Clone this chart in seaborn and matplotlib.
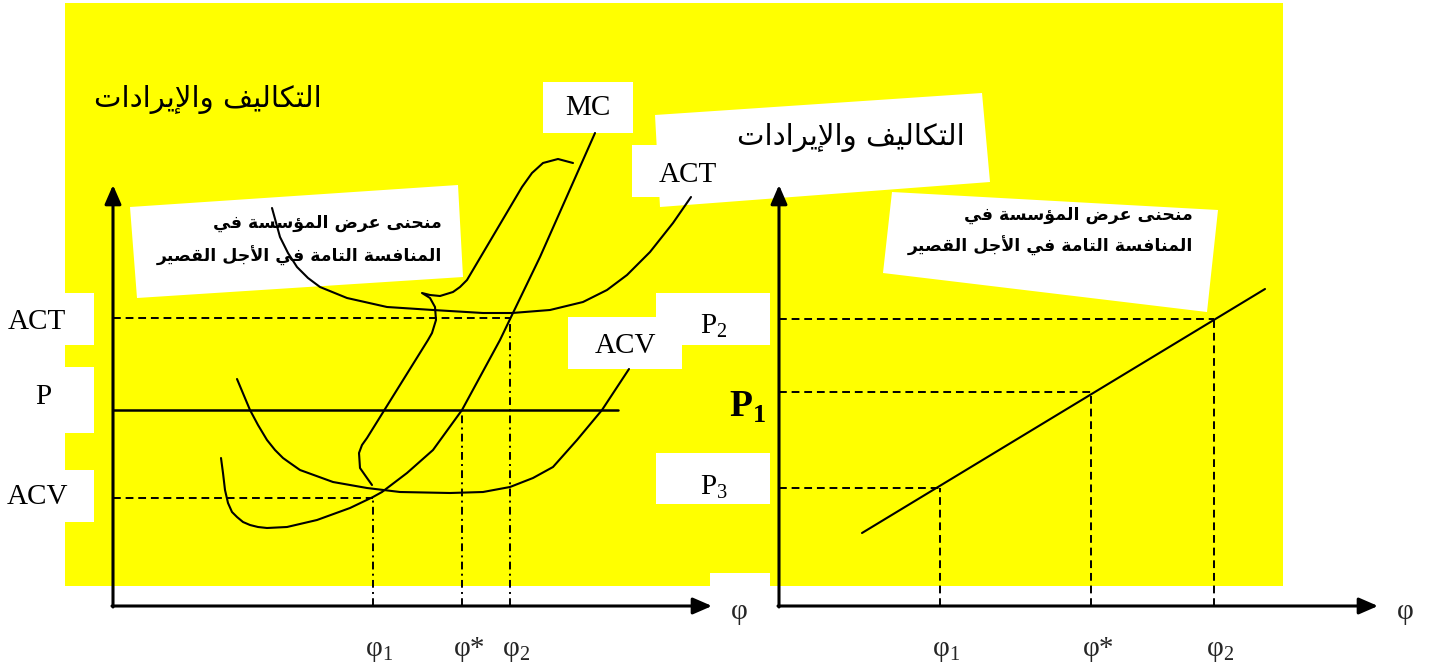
import matplotlib
matplotlib.use('Agg')
import matplotlib.pyplot as plt
from matplotlib.patches import Rectangle, Polygon
import seaborn as sns


# ---- values read off the picture (panel units, measured from each origin) ----
# left panel: short-run cost curves
mc_q = [108, 110, 112, 115, 119, 124, 130, 137, 145, 154, 174, 204, 237, 260, 269, 294, 320, 349, 387, 399, 427, 482]
mc_c = [148, 133, 116, 103, 94, 89, 84, 81, 79, 78, 79, 86, 98, 109, 114, 133, 156, 196, 266, 291, 349, 473]

acv_q = [124, 137, 145, 154, 162, 170, 177, 187, 220, 254, 287, 337, 370, 397, 420, 440, 464, 489, 516]
acv_c = [227, 196, 181, 166, 156, 148, 143, 136, 124, 118, 114, 113, 114, 119, 128, 139, 166, 196, 237]

act_q = [159, 167, 175, 184, 195, 207, 234, 274, 320, 370, 399, 437, 470, 494, 514, 537, 560, 578]
act_c = [398, 369, 353, 339, 328, 319, 308, 299, 296, 293, 293, 296, 304, 316, 331, 354, 383, 409]

# brace around the supply part of MC
brace_q = [460, 445, 430, 419, 409, 354, 347, 340, 327, 317, 309, 317, 322, 323, 319, 315, 254, 249, 246, 247, 254, 259]
brace_c = [443, 447, 443, 433, 419, 326, 319, 314, 310, 311, 313, 308, 299, 286, 273, 266, 168, 161, 153, 138, 128, 121]

left_phi = [260, 349, 397]          # phi1, phi*, phi2
act_level, p_level, acv_level = 288, 196, 108
p_line_end = 505

# right panel: supply curve of the firm
supply_q = [83, 486]
supply_c = [73, 317]
right_phi = [161, 312, 435]         # phi1, phi*, phi2
right_p = [118, 214, 287]           # P3, P1, P2

phi_labels = ['φ$_1$', 'φ*', 'φ$_2$']
axis_len = [599, 421]

title_ar = 'التكاليف والإيرادات'
box_ar = ['منحنى عرض المؤسسة في', 'المنافسة التامة في الأجل القصير']


# minimal arabic shaping (presentation forms, right to left)
DUAL = dict(zip('بتجحسصضعفقكلمني',
                [0xFE8F, 0xFE95, 0xFE9D, 0xFEA1, 0xFEB1, 0xFEB9, 0xFEBD, 0xFEC9,
                 0xFED1, 0xFED5, 0xFED9, 0xFEDD, 0xFEE1, 0xFEE5, 0xFEF1]))
RIGHT = dict(zip('اأإآؤةدروى',
                 [0xFE8D, 0xFE83, 0xFE87, 0xFE81, 0xFE85, 0xFE93, 0xFEA9, 0xFEAD, 0xFEED, 0xFEEF]))
LAMALEF = dict(zip('اأإآ', [0xFEFB, 0xFEF7, 0xFEF9, 0xFEF5]))


def shape_ar(text):
    toks = []
    i = 0
    while i < len(text):
        c = text[i]
        if c == 'ل' and i + 1 < len(text) and text[i + 1] in LAMALEF:
            toks.append(('R', LAMALEF[text[i + 1]]))
            i += 2
            continue
        if c in DUAL:
            toks.append(('D', DUAL[c]))
        elif c in RIGHT:
            toks.append(('R', RIGHT[c]))
        else:
            toks.append(('N', c))
        i += 1
    out = []
    for k, (kind, b) in enumerate(toks):
        if kind == 'N':
            out.append(b)
            continue
        jp = k > 0 and toks[k - 1][0] == 'D'
        if kind == 'R':
            out.append(chr(b + 1 if jp else b))
        else:
            jn = k + 1 < len(toks) and toks[k + 1][0] != 'N'
            out.append(chr(b + {(0, 0): 0, (1, 0): 1, (0, 1): 2, (1, 1): 3}[(jp, jn)]))
    return ''.join(out[::-1])


# ---- style ----
sns.set_style('white')
plt.rcParams['font.family'] = ['Liberation Serif', 'DejaVu Sans']
plt.rcParams['mathtext.fontset'] = 'custom'
plt.rcParams['mathtext.rm'] = 'Liberation Serif'
plt.rcParams['mathtext.bf'] = 'Liberation Serif:bold'

W, H = 1432, 671
YEL = '#FFFF00'
fig = plt.figure(figsize=(W / 100, H / 100), dpi=100)

# background layer in pixels
bg = fig.add_axes([0, 0, 1, 1])
bg.set_xlim(0, W)
bg.set_ylim(H, 0)
bg.axis('off')
bg.add_patch(Rectangle((65, 3), 1218, 583, color=YEL, lw=0))
for x, y, w, h in [(0, 293, 94, 52), (0, 367, 94, 66), (0, 470, 94, 52),
                   (543, 82, 90, 51), (632, 145, 88, 52), (568, 317, 114, 52),
                   (656, 293, 114, 52), (656, 453, 114, 51), (710, 573, 60, 13)]:
    bg.add_patch(Rectangle((x, y), w, h, color='white', lw=0))
for pts in [[(130, 207), (458, 185), (463, 277), (137, 298)],
            [(655, 115), (982, 93), (990, 182), (660, 207)],
            [(892, 192), (1218, 210), (1207, 312), (883, 273)]]:
    bg.add_patch(Polygon(pts, closed=True, color='white', lw=0))

lab = dict(fontsize=21, color='black', ha='center', va='center')
for s, x, y in [('ACT', 37, 322), ('P', 43, 397), ('ACV', 37, 497), ('MC', 588, 108),
                ('ACT', 688, 175), ('ACV', 625, 346), ('P$_2$', 714, 326), ('P$_3$', 714, 487)]:
    bg.text(x, y, s, **lab)
bg.text(748, 407, 'P$_\\mathbf{1}$', fontsize=27, fontweight='bold', color='black',
        ha='center', va='center')

ar = dict(family=['DejaVu Sans'], color='black')
bg.text(208, 100, shape_ar(title_ar), fontsize=21, ha='center', va='center', **ar)
bg.text(851, 138, shape_ar(title_ar), fontsize=21, ha='center', va='center', **ar)
for xr, ys in [(442, (228, 262)), (1193, (220, 252))]:
    for s, yb in zip(box_ar, ys):
        bg.text(xr, yb, shape_ar(s), fontsize=12.5, fontweight='bold', ha='right',
                va='baseline', **ar)


def panel(x0, y0):
    ax = fig.add_axes([x0 / W, (H - y0) / H, 640 / W, 520 / H])
    ax.set_xlim(0, 640)
    ax.set_ylim(0, 520)
    ax.axis('off')
    ax.patch.set_alpha(0)
    arrow = dict(arrowstyle='-|>,head_length=1.15,head_width=0.5', lw=2.2, color='black',
                 shrinkA=0, shrinkB=0, mutation_scale=10)
    ax.annotate('', xy=(axis_len[0], 0), xytext=(-1, 0), arrowprops=arrow, annotation_clip=False)
    ax.annotate('', xy=(0, axis_len[1]), xytext=(0, -1), arrowprops=arrow, annotation_clip=False)
    ax.text(axis_len[0] + 19, -13, 'φ', fontsize=21, ha='left', va='baseline')
    return ax


curve = dict(color='black', lw=1.5, sort=False, estimator=None)
dash = dict(color='black', lw=1.4, ls=(0, (4, 2.5)))
dashdot = dict(color='black', lw=1.4, ls=(0, (4, 2.2, 1, 2.2)))

# left panel
axl = panel(113, 606)
sns.lineplot(x=mc_q, y=mc_c, ax=axl, **curve)
sns.lineplot(x=acv_q, y=acv_c, ax=axl, **curve)
sns.lineplot(x=act_q, y=act_c, ax=axl, **curve)
sns.lineplot(x=brace_q, y=brace_c, ax=axl, **curve)
axl.plot([0, p_line_end], [p_level, p_level], color='black', lw=1.8)
axl.plot([0, left_phi[2]], [act_level, act_level], **dash)
axl.plot([0, left_phi[0]], [acv_level, acv_level], **dash)
for q, c in zip(left_phi, [acv_level, p_level, act_level]):
    axl.plot([q, q], [0, c], **dashdot)
for q, s in zip(left_phi, phi_labels):
    axl.text(q - 8, -50, s, fontsize=21, ha='left', va='baseline')
axl.set_xlim(0, 640)
axl.set_ylim(0, 520)

# right panel
axr = panel(779, 606)
sns.lineplot(x=supply_q, y=supply_c, ax=axr, **curve)
for q, c in zip(right_phi, right_p):
    axr.plot([0, q], [c, c], **dash)
    axr.plot([q, q], [0, c], **dash)
for q, s in zip(right_phi, phi_labels):
    axr.text(q - 8, -50, s, fontsize=21, ha='left', va='baseline')
axr.set_xlim(0, 640)
axr.set_ylim(0, 520)

fig.savefig('out.png', dpi=100)
